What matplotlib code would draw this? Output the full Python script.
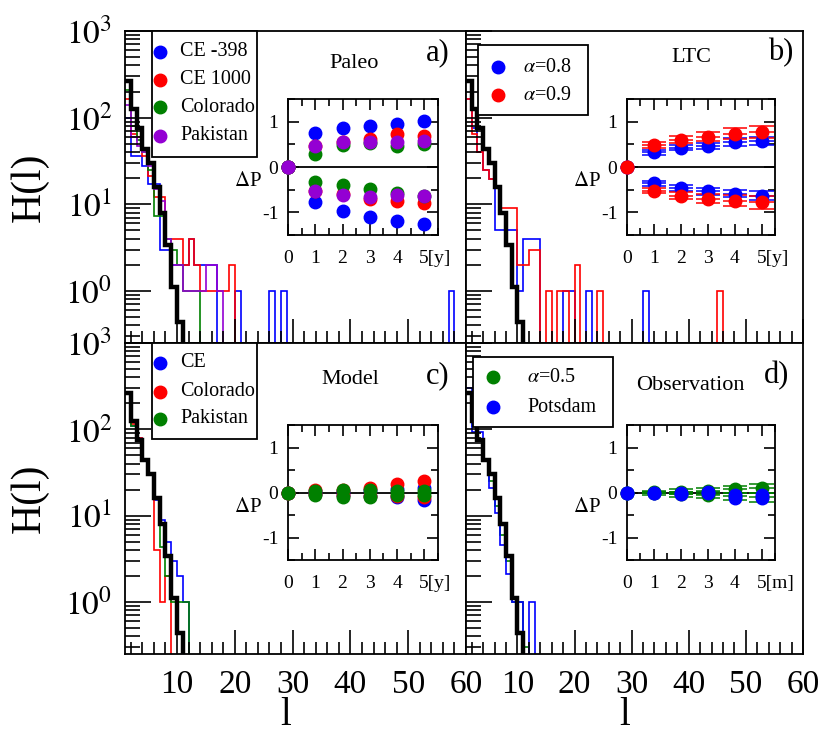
import numpy as np
import matplotlib.pyplot as plt
from matplotlib.patches import Rectangle
from matplotlib.lines import Line2D
from matplotlib.transforms import ScaledTranslation
from matplotlib.ticker import FixedLocator, NullFormatter, LogLocator, MultipleLocator

plt.rcParams['font.family'] = ['Liberation Serif', 'DejaVu Serif']
plt.rcParams['mathtext.fontset'] = 'stix'

W, H = 824, 736

# ---- H(l), l = 1, 2, ...  (bins not listed are empty)
h_ref = [263, 126, 75, 44, 30, 16, 8, 3.4, 1.1, 0.44]

paleo_names = ['CE -398', 'CE 1000', 'Colorado', 'Pakistan']
paleo_colors = ['blue', 'red', 'green', '#9400d3']
h_ce398 = [100, 36, 36, 28, 17, 17, 3, 3, 2, 2, 2, 4, 2, 2, 2, 2, 0, 0, 0, 1,
           0, 0, 0, 0, 0, 1, 0, 1] + [0] * 28 + [1]
h_ce1000 = [166, 65, 60, 36, 21, 12, 12, 4, 4, 4, 2, 4, 2, 1, 1, 1, 1, 1, 2]
h_colorado = [210, 80, 55, 40, 25, 7.4, 7.4, 4, 3, 2, 1, 1, 1]
h_pakistan = [141, 60, 47, 40, 28, 15, 11, 4, 2, 2, 1, 1, 1, 1, 2, 2, 1]

ltc_names = [r'$\alpha$=0.8', r'$\alpha$=0.9']
ltc_colors = ['blue', 'red']
h_ltc08 = [166, 75, 40, 25, 19.5, 5, 5, 5, 5, 1, 4, 4, 4, 0, 0, 0, 0, 1, 1, 0,
           0, 1] + [0] * 9 + [1]
h_ltc09 = [166, 65, 40, 25, 19.5, 16, 9, 9, 9, 2, 2, 3, 3, 0, 1, 0, 1, 1, 0, 2,
           0, 0, 0, 1] + [0] * 20 + [1]

model_names = ['CE', 'Colorado', 'Pakistan']
model_colors = ['blue', 'red', 'green']
h_model_ce = [260, 110, 80, 45, 30, 15, 9, 5, 3, 2, 1]
h_model_col = [255, 115, 80, 45, 30, 4, 1, 2]
h_model_pak = [270, 110, 78, 45, 30, 16, 4.3, 2, 1, 1, 1]

obs_names = [r'$\alpha$=0.5', 'Potsdam']
obs_colors = ['green', 'blue']
h_obs_a05 = [270, 110, 75, 45, 25, 13, 6, 3, 1, 1, 0.3]
h_obs_pot = [300, 93, 93, 43, 21, 10.7, 4.6, 2.1, 1, 1, 0, 1]

# ---- inset: Delta P at lag 0..5 (upper / lower branch)
lag = [0, 1, 2, 3, 4, 5]
dp_ce398 = ([0, 0.75, 0.87, 0.90, 0.94, 1.02], [0, -0.78, -0.98, -1.10, -1.20, -1.25])
dp_ce1000 = ([0, 0.47, 0.55, 0.62, 0.72, 0.68], [0, -0.52, -0.60, -0.70, -0.74, -0.80])
dp_colorado = ([0, 0.28, 0.49, 0.52, 0.47, 0.51], [0, -0.33, -0.40, -0.48, -0.57, -0.63])
dp_pakistan = ([0, 0.47, 0.55, 0.55, 0.55, 0.57], [0, -0.52, -0.61, -0.67, -0.61, -0.63])

dp_ltc08 = ([0, 0.32, 0.43, 0.47, 0.55, 0.58], [0, -0.36, -0.46, -0.54, -0.59, -0.63])
dp_ltc09 = ([0, 0.49, 0.60, 0.67, 0.73, 0.77], [0, -0.52, -0.63, -0.70, -0.74, -0.78])
err_ltc08 = [0, 0.05, 0.06, 0.07, 0.08, 0.09]
err_ltc09 = [0, 0.06, 0.08, 0.10, 0.12, 0.14]

dp_model_ce = ([0, 0.03, 0.04, 0.05, 0.08, 0.10], [0, -0.03, -0.05, -0.07, -0.10, -0.17])
dp_model_col = ([0, 0.05, 0.06, 0.11, 0.20, 0.25], [0, -0.04, -0.06, -0.08, -0.08, -0.10])
dp_model_pak = ([0, 0.04, 0.05, 0.05, 0.04, 0.03], [0, -0.06, -0.09, -0.11, -0.06, -0.05])

dp_obs_a05 = ([0, 0.01, 0.02, 0.04, 0.07, 0.09], [0, -0.02, -0.04, -0.06, -0.08, -0.10])
err_obs_a05 = [0, 0.03, 0.05, 0.07, 0.08, 0.10]
dp_obs_pot = ([0, 0.00, -0.01, 0.02, -0.05, -0.06], [0, -0.02, -0.03, -0.02, -0.13, -0.13])


def fx(x):
    return x / W


def fy(y):
    return 1 - y / H


fig = plt.figure(figsize=(W / 100, H / 100), dpi=100)


def main_axes(x0, y0, x1, y1, left, bottom):
    ax = fig.add_axes([fx(x0), fy(y1), fx(x1) - fx(x0), fy(y0) - fy(y1)])
    ax.set_yscale('log')
    ax.set_xlim(1, 60)
    ax.set_ylim(0.25, 1000)
    for s in ax.spines.values():
        s.set_linewidth(1.3)
    ax.yaxis.set_major_locator(FixedLocator([1, 10, 100, 1000]))
    ax.yaxis.set_minor_locator(LogLocator(subs=np.arange(2, 10), numticks=20))
    ax.xaxis.set_major_locator(MultipleLocator(10))
    ax.xaxis.set_minor_locator(MultipleLocator(2))
    ax.tick_params(axis='y', which='major', direction='in', length=19, width=1.2,
                   labelsize=24, pad=9, right=False)
    ax.tick_params(axis='y', which='minor', direction='in', length=11, width=1.2, right=False)
    ax.tick_params(axis='x', which='major', direction='in', length=17, width=1.2,
                   labelsize=24, pad=11, top=False)
    ax.tick_params(axis='x', which='minor', direction='in', length=9, width=1.2, top=False)
    ax.yaxis.set_minor_formatter(NullFormatter())
    if left:
        ax.set_yticklabels([r'$10^{0}$', r'$10^{1}$', r'$10^{2}$', r'$10^{3}$'])
        ax.set_ylabel('H(l)', fontsize=30, labelpad=12)
    else:
        ax.set_yticklabels([])
    if bottom:
        ax.set_xticklabels(['', '10', '20', '30', '40', '50', '60'])
        ax.set_xlabel('l', fontsize=28, labelpad=-2, x=0.47)
    else:
        ax.set_xticklabels([])
    return ax


def draw_hist(ax, values, color, lw=1.2):
    vals = np.zeros(59)
    vals[:len(values)] = values
    edges = np.arange(1, 61)
    ax.stairs(vals, edges, baseline=None, color=color, lw=lw)


def inset_axes(x0, y0, x1, y1, unit):
    ax = fig.add_axes([fx(x0), fy(y1), fx(x1) - fx(x0), fy(y0) - fy(y1)])
    ax.set_xlim(0, 5.5)
    ax.set_ylim(-1.5, 1.5)
    for s in ax.spines.values():
        s.set_linewidth(1.3)
    ax.xaxis.set_major_locator(FixedLocator([0, 1, 2, 3, 4, 5]))
    ax.xaxis.set_minor_locator(MultipleLocator(0.5))
    ax.yaxis.set_major_locator(FixedLocator([-1, 0, 1]))
    ax.yaxis.set_minor_locator(MultipleLocator(0.5))
    ax.tick_params(which='both', direction='in', top=True, right=True, width=1.2,
                   labelsize=14)
    ax.tick_params(which='major', length=8)
    ax.tick_params(which='minor', length=5)
    ax.tick_params(axis='x', pad=11)
    ax.tick_params(axis='y', pad=7)
    ax.set_xticklabels(['0', '1', '2', '3', '4', '5[' + unit + ']'])
    last = ax.get_xticklabels()[-1]
    last.set_horizontalalignment('left')
    last.set_transform(last.get_transform() + ScaledTranslation(-5 / 100, 0, fig.dpi_scale_trans))
    ax.set_yticklabels(['-1', '0', '1'])
    ax.axhline(0, color='black', lw=1.3)
    ax.text(-0.27, 0.39, r'$\Delta$P', fontsize=15, ha='center', va='center',
            transform=ax.transAxes)
    return ax


def draw_dp(ax, pair, color, err=None):
    for branch in pair:
        if err is not None:
            for xi, yi, ei in zip(lag[1:], branch[1:], err[1:]):
                ax.hlines([yi - ei, yi + ei], xi - 0.45, xi + 0.45, color=color, lw=1.1)
            ax.errorbar(lag[1:], branch[1:], xerr=0.45, yerr=err[1:], fmt='none',
                        ecolor=color, elinewidth=1.1)
        ax.plot(lag, branch, 'o', color=color, ms=9, clip_on=False, zorder=3)


def legend_box(x0, y0, x1, y1, names, colors, ys, xm, xt):
    fig.add_artist(Rectangle((fx(x0), fy(y1)), fx(x1) - fx(x0), fy(y0) - fy(y1),
                             transform=fig.transFigure, fill=True, fc='white',
                             ec='black', lw=1.3, zorder=5))
    for name, c, y in zip(names, colors, ys):
        fig.add_artist(Line2D([fx(xm)], [fy(y)], marker='o', ms=9, color=c,
                              transform=fig.transFigure, zorder=6))
        fig.text(fx(xt), fy(y), name, fontsize=14.5, va='center', ha='left', zorder=6)


# panel a
ax_a = main_axes(125, 31, 466, 343, True, False)
for h, c in zip([h_ce398, h_ce1000, h_colorado, h_pakistan], paleo_colors):
    draw_hist(ax_a, h, c)
draw_hist(ax_a, h_ref, 'black', lw=3.2)
ins_a = inset_axes(288, 99, 438, 235, 'y')
for p, c in zip([dp_ce398, dp_ce1000, dp_colorado, dp_pakistan], paleo_colors):
    draw_dp(ins_a, p, c)
legend_box(152, 31, 257, 157, paleo_names, paleo_colors, [52, 80, 107, 136], 160, 180)
fig.text(fx(438), fy(53), 'a)', fontsize=22, ha='center', va='center')
fig.text(fx(354), fy(64), 'Paleo', fontsize=16, ha='center', va='center')

# panel b
ax_b = main_axes(466, 31, 803, 343, False, False)
draw_hist(ax_b, h_ltc08, 'blue')
draw_hist(ax_b, h_ltc09, 'red')
draw_hist(ax_b, h_ref, 'black', lw=3.2)
ins_b = inset_axes(627, 99, 775, 235, 'y')
draw_dp(ins_b, dp_ltc08, 'blue', err_ltc08)
draw_dp(ins_b, dp_ltc09, 'red', err_ltc09)
legend_box(478, 45, 588, 115, ltc_names, ltc_colors, [67, 95], 498, 523)
fig.text(fx(781), fy(53), 'b)', fontsize=22, ha='center', va='center')
fig.text(fx(691), fy(58), 'LTC', fontsize=16, ha='center', va='center')

# panel c
ax_c = main_axes(125, 343, 466, 654, True, True)
for h, c in zip([h_model_ce, h_model_col, h_model_pak], model_colors):
    draw_hist(ax_c, h, c)
draw_hist(ax_c, h_ref, 'black', lw=3.2)
ins_c = inset_axes(288, 425, 438, 560, 'y')
for p, c in zip([dp_model_ce, dp_model_col, dp_model_pak], model_colors):
    draw_dp(ins_c, p, c)
legend_box(152, 343, 257, 439, model_names, model_colors, [363, 392, 419], 160, 180)
fig.text(fx(438), fy(376), 'c)', fontsize=22, ha='center', va='center')
fig.text(fx(350), fy(380), 'Model', fontsize=16, ha='center', va='center')

# panel d
ax_d = main_axes(466, 343, 803, 654, False, True)
draw_hist(ax_d, h_obs_a05, 'green')
draw_hist(ax_d, h_obs_pot, 'blue')
draw_hist(ax_d, h_ref, 'black', lw=3.2)
ins_d = inset_axes(627, 425, 775, 560, 'm')
draw_dp(ins_d, dp_obs_a05, 'green', err_obs_a05)
draw_dp(ins_d, dp_obs_pot, 'blue')
legend_box(473, 357, 613, 427, obs_names, obs_colors, [377, 407], 493, 527)
fig.text(fx(777), fy(376), 'd)', fontsize=22, ha='center', va='center')
fig.text(fx(690), fy(385), 'Observation', fontsize=16, ha='center', va='center')

fig.savefig('out.png', dpi=100)
